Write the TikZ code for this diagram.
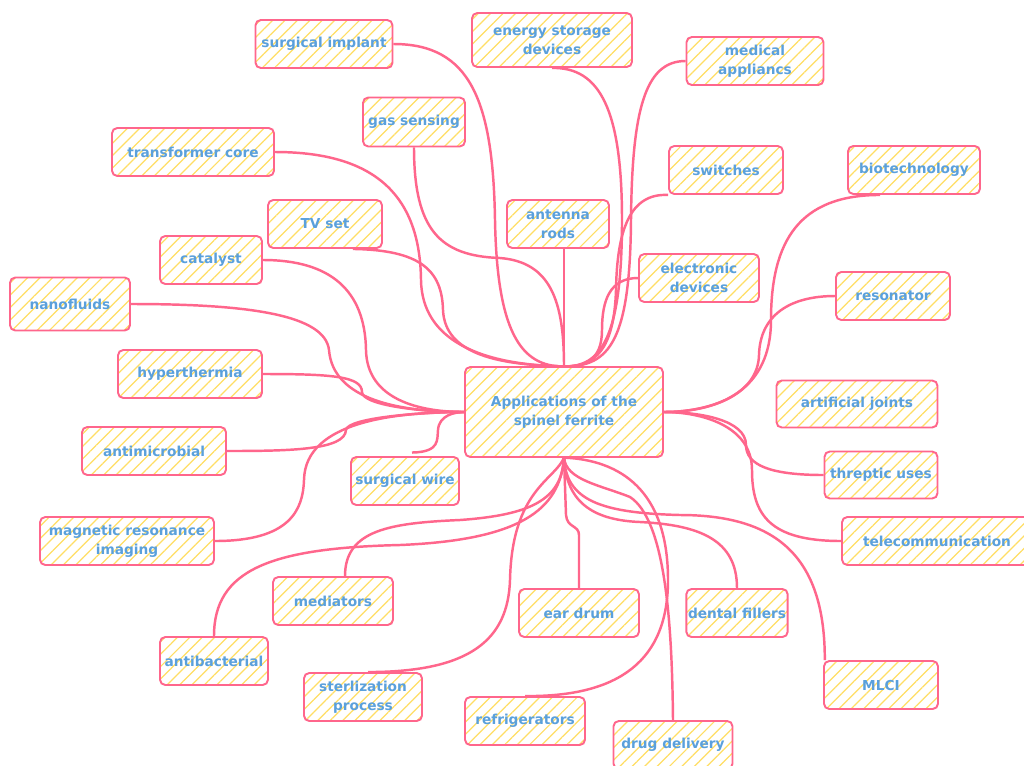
\documentclass[tikz,border=0pt]{standalone}
\usepackage{fontspec}
\setmainfont{DejaVu Sans}
\usetikzlibrary{patterns.meta}
\definecolor{linkpink}{RGB}{255,102,140}
\definecolor{textblue}{RGB}{90,160,220}
\definecolor{hatchyellow}{RGB}{255,222,100}
\newcommand\appfont{\fontsize{7.8}{10.6}\selectfont\bfseries}
\tikzset{
  idea/.style={draw=linkpink, line width=1.1pt, rounded corners=3pt,
    pattern={Lines[angle=45,distance=5pt,line width=0.7pt]}, pattern color=hatchyellow,
    text=textblue, font=\appfont, align=center, inner sep=1pt},
  link/.style={draw=linkpink, line width=1.4pt},
}
\begin{document}
\begin{tikzpicture}[x=0.02cm,y=-0.02cm]
\fill[white] (0,0) rectangle (1024,765);
\useasboundingbox (0,0) rectangle (1024,765);
% central idea
\node[idea, minimum width=3.96cm, minimum height=1.8cm] (app) at (564,412) {Applications of the\\spinel ferrite};
% upper branches
\node[idea, minimum width=2.74cm, minimum height=0.96cm] (simp) at (324,44) {surgical implant};
\node[idea, minimum width=3.2cm, minimum height=1.08cm] (energy) at (552,40) {energy storage\\devices};
\node[idea, minimum width=2.74cm, minimum height=0.96cm] (medic) at (755,61) {medical\\appliancs};
\node[idea, minimum width=2.04cm, minimum height=0.98cm] (gas) at (414,122) {gas sensing};
\node[idea, minimum width=3.24cm, minimum height=0.96cm] (trans) at (193,152) {transformer core};
\node[idea, minimum width=2.28cm, minimum height=0.96cm] (switch) at (726,170) {switches};
\node[idea, minimum width=2.64cm, minimum height=0.96cm] (bio) at (914,170) {biotechnology};
\node[idea, minimum width=2.28cm, minimum height=0.96cm] (tv) at (325,224) {TV set};
\node[idea, minimum width=2.04cm, minimum height=0.96cm] (ant) at (558,224) {antenna\\rods};
\node[idea, minimum width=2.04cm, minimum height=0.96cm] (cat) at (211,260) {catalyst};
\node[idea, minimum width=2.4cm, minimum height=0.96cm] (elec) at (699,278) {electronic\\devices};
\node[idea, minimum width=2.4cm, minimum height=1.06cm] (nano) at (70,304) {nanofluids};
\node[idea, minimum width=2.28cm, minimum height=0.96cm] (reso) at (893,296) {resonator};
\node[idea, minimum width=2.88cm, minimum height=0.96cm] (hyper) at (190,374) {hyperthermia};
\node[idea, minimum width=3.22cm, minimum height=0.94cm] (joint) at (857,404) {artificial joints};
% lower branches
\node[idea, minimum width=2.88cm, minimum height=0.96cm] (amic) at (154,451) {antimicrobial};
\node[idea, minimum width=2.16cm, minimum height=0.96cm] (swire) at (405,481) {surgical wire};
\node[idea, minimum width=2.26cm, minimum height=0.94cm] (threp) at (881,475) {threptic uses};
\node[idea, minimum width=3.48cm, minimum height=0.96cm] (mri) at (127,541) {magnetic resonance\\imaging};
\node[idea, minimum width=3.8cm, minimum height=0.96cm] (tele) at (937,541) {telecommunication};
\node[idea, minimum width=2.4cm, minimum height=0.96cm] (medi) at (333,601) {mediators};
\node[idea, minimum width=2.4cm, minimum height=0.96cm] (ear) at (579,613) {ear drum};
\node[idea, minimum width=2.02cm, minimum height=0.96cm] (dent) at (737,613) {dental fillers};
\node[idea, minimum width=2.16cm, minimum height=0.96cm] (abac) at (214,661) {antibacterial};
\node[idea, minimum width=2.28cm, minimum height=0.96cm] (mlci) at (881,685) {MLCI};
\node[idea, minimum width=2.36cm, minimum height=0.96cm] (ster) at (363,697) {sterlization\\process};
\node[idea, minimum width=2.4cm, minimum height=0.96cm] (refr) at (525,721) {refrigerators};
\node[idea, minimum width=2.38cm, minimum height=0.96cm] (drug) at (673,745) {drug delivery};
% links to the top
\draw[link] (simp.east) .. controls (470,44) and (493,100) .. (495,220) .. controls (497,330) and (520,367) .. (app.north);
\draw[link] (energy.south) .. controls (600,67) and (622,110) .. (622,220) .. controls (622,340) and (600,367) .. (app.north);
\draw[link] (medic.west) .. controls (645,61) and (632,110) .. (631,220) .. controls (630,340) and (610,367) .. (app.north);
\draw[link] (switch.south west) .. controls (630,193) and (617,230) .. (616,290) .. controls (614,350) and (595,367) .. (app.north);
\draw[link] (elec.west) .. controls (610,278) and (602,300) .. (602,330) .. controls (602,360) and (585,367) .. (app.north);
\draw[link] (app.north |- ant.south) -- (app.north);
\draw[link] (gas.south) .. controls (414,230) and (440,256) .. (500,258) .. controls (550,262) and (564,300) .. (app.north);
\draw[link] (trans.east) .. controls (380,152) and (420,200) .. (421,280) .. controls (422,340) and (480,365) .. (app.north);
\draw[link] ([xshift=-0.6cm]tv.south east) .. controls (420,250) and (442,270) .. (443,310) .. controls (445,355) and (500,365) .. (app.north);
% links to the left
\draw[link] (cat.east) .. controls (330,260) and (365,290) .. (366,350) .. controls (367,400) and (420,412) .. (app.west);
\draw[link] (nano.east) .. controls (250,304) and (325,315) .. (329,350) .. controls (333,400) and (400,412) .. (app.west);
\draw[link] (hyper.east) .. controls (330,374) and (362,376) .. (362,392) .. controls (362,405) and (420,412) .. (app.west);
\draw[link] (amic.east) .. controls (290,451) and (345,450) .. (346,430) .. controls (347,418) and (420,412) .. (app.west);
\draw[link] (mri.east) .. controls (290,541) and (303,510) .. (304,480) .. controls (305,420) and (400,412) .. (app.west);
\draw[link] ([xshift=0.14cm,yshift=2pt]swire.north) .. controls (440,452) and (437,440) .. (438,430) .. controls (439,415) and (455,412) .. (app.west);
% links to the bottom
\draw[link] ([xshift=0.24cm]medi.north) .. controls (345,530) and (390,523) .. (460,520) .. controls (530,515) and (562,500) .. (app.south);
\draw[link] (abac.north) .. controls (214,570) and (270,548) .. (400,545) .. controls (520,540) and (560,510) .. (app.south);
\draw[link] ([xshift=0.1cm]ster.north) .. controls (470,672) and (508,640) .. (510,580) .. controls (512,490) and (555,480) .. (app.south);
\draw[link] (ear.north) -- (579,535) .. controls (579,525) and (567,528) .. (566,515) -- (app.south);
\draw[link] (dent.north) .. controls (737,540) and (700,525) .. (640,522) .. controls (590,520) and (566,500) .. (app.south);
\draw[link] ([xshift=1pt]mlci.north west) .. controls (825,560) and (780,515) .. (680,515) .. controls (600,513) and (566,500) .. (app.south);
\draw[link] (refr.north) .. controls (620,697) and (668,660) .. (668,580) .. controls (668,490) and (620,460) .. (app.south);
\draw[link] (drug.north) .. controls (672,620) and (665,520) .. (630,497) .. controls (600,485) and (566,480) .. (app.south);
% links to the right
\draw[link] ([xshift=-0.68cm]bio.south) .. controls (800,195) and (771,240) .. (771,320) .. controls (771,390) and (720,412) .. (app.east);
\draw[link] (reso.west) .. controls (790,296) and (760,315) .. (759,355) .. controls (758,395) and (710,412) .. (app.east);
\draw[link] (threp.west) .. controls (770,475) and (746,465) .. (746,445) .. controls (746,420) and (700,412) .. (app.east);
\draw[link] (tele.west) .. controls (770,541) and (752,515) .. (752,470) .. controls (752,425) and (700,412) .. (app.east);
\end{tikzpicture}
\end{document}
